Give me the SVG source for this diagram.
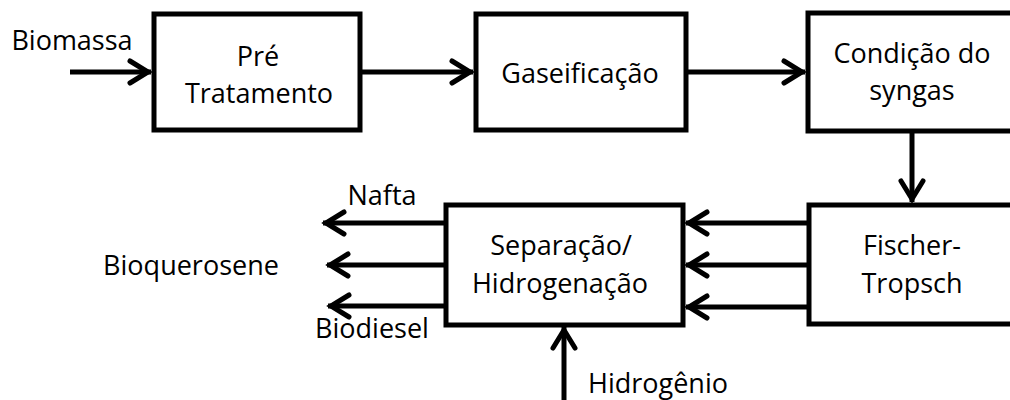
<svg xmlns="http://www.w3.org/2000/svg" width="1010" height="400" viewBox="0 0 1010 400">
  <defs>
    <style>
      .box { fill: #ffffff; stroke: #000000; stroke-width: 5; }
      .flow { stroke: #000000; stroke-width: 5; fill: none; marker-end: url(#chevron); }
      text { font-family: "Open Sans", "Noto Sans", "Liberation Sans", sans-serif; font-size: 27px; fill: #000000; text-anchor: middle; }
    </style>
    <!-- open chevron arrowhead, sized in user units -->
    <marker id="chevron" markerUnits="userSpaceOnUse" viewBox="-30 -16 36 32" markerWidth="36" markerHeight="32" refX="0" refY="0" orient="auto" overflow="visible">
      <path d="M-21,-11 L-3,0 L-21,11" fill="none" stroke="#000000" stroke-width="5" stroke-linecap="round" stroke-linejoin="miter"/>
    </marker>
  </defs>

  <rect width="1010" height="400" fill="#ffffff"/>

  <g id="connectors">
    <line class="flow" x1="70" y1="72" x2="151" y2="72"/>
    <line class="flow" x1="360" y1="72" x2="473" y2="72"/>
    <line class="flow" x1="687" y1="72" x2="805" y2="72"/>
    <line class="flow" x1="912" y1="132" x2="912" y2="202"/>
    <line class="flow" x1="809" y1="223" x2="686" y2="223"/>
    <line class="flow" x1="809" y1="265" x2="686" y2="265"/>
    <line class="flow" x1="809" y1="307" x2="686" y2="307"/>
    <line class="flow" x1="446" y1="223" x2="323" y2="223"/>
    <line class="flow" x1="446" y1="265" x2="327" y2="265"/>
    <line class="flow" x1="450" y1="306" x2="328" y2="306"/>
    <line class="flow" x1="564" y1="400" x2="564" y2="327"/>
  </g>

  <g id="biomassa">
    <text x="72" y="50">Biomassa</text>
  </g>

  <g id="pre-tratamento">
    <rect class="box" x="154" y="14" width="206" height="116"/>
    <text x="258" y="66">Pré</text>
    <text x="259" y="103">Tratamento</text>
  </g>

  <g id="gaseificacao">
    <rect class="box" x="476" y="14" width="210" height="116"/>
    <text x="580" y="83">Gaseificação</text>
  </g>

  <g id="condicao-syngas">
    <rect class="box" x="808" y="13" width="230" height="118"/>
    <text x="912" y="63">Condição do</text>
    <text x="912" y="100">syngas</text>
  </g>

  <g id="fischer-tropsch">
    <rect class="box" x="809" y="205" width="230" height="119"/>
    <text x="912" y="255">Fischer-</text>
    <text x="912" y="293">Tropsch</text>
  </g>

  <g id="separacao-hidrogenacao">
    <rect class="box" x="446" y="205" width="237" height="120"/>
    <text x="561" y="255">Separação/</text>
    <text x="560" y="293">Hidrogenação</text>
  </g>

  <g id="produtos">
    <text x="382" y="205">Nafta</text>
    <text x="191" y="275">Bioquerosene</text>
    <text x="372" y="338">Biodiesel</text>
  </g>

  <g id="hidrogenio">
    <text x="658" y="393">Hidrogênio</text>
  </g>
</svg>
